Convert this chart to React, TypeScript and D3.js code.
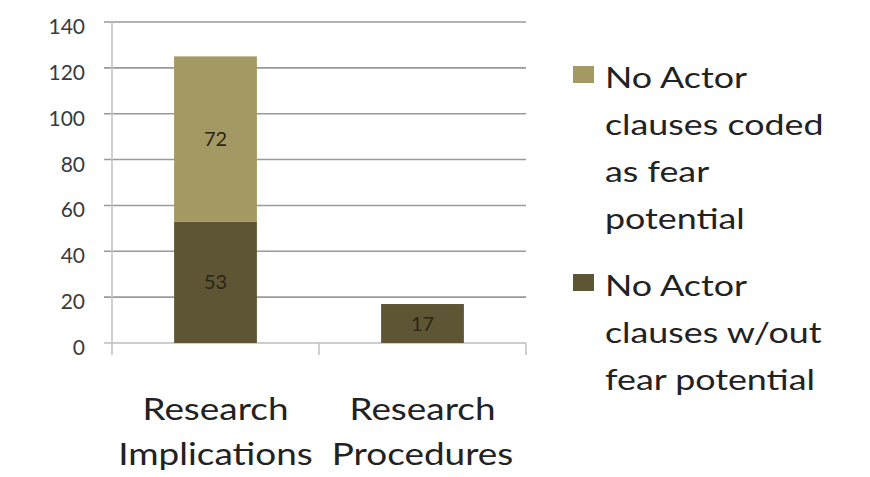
import * as d3 from 'd3'

const categories = [['Research', 'Implications'], ['Research', 'Procedures']]
const fearValues = [72, 0]
const noFearValues = [53, 17]
const yTicks = [0, 20, 40, 60, 80, 100, 120, 140]
const legendLines = [
  ['No Actor', 'clauses coded', 'as fear', 'potential'],
  ['No Actor', 'clauses w/out', 'fear potential'],
]
const colors = ['#a39a63', '#5e5535']

export default function App() {
  const width = 870
  const height = 477
  const margin = { top: 22, bottom: 134, left: 112, right: 344 }
  const font = 'Lato, "Open Sans", sans-serif'
  const y = d3.scaleLinear().domain([0, 140]).range([height - margin.bottom, margin.top])
  const x = d3
    .scaleBand<number>()
    .domain(categories.map((_, i) => i))
    .range([margin.left, width - margin.right])
    .paddingInner(0.6)
    .paddingOuter(0.3)
  const step = x.step()
  const axisEnd = margin.left + step * categories.length
  const base = y(0)

  return (
    <svg
      width={width}
      height={height}
      viewBox={`0 0 ${width} ${height}`}
      style={{ position: 'absolute', left: 0, top: 0, background: 'white' }}
    >
      {yTicks.map((tick) => (
        <g key={tick} transform={`translate(0,${y(tick)})`}>
          <line x1={margin.left - 8} x2={axisEnd} stroke={tick === 0 ? '#bdbdbd' : '#9a9a9a'} strokeWidth="1.6" />
          <text x={margin.left - 27} y={12} textAnchor="end" fontSize="21" fontFamily={font} fill="#3a3a3a">
            {tick}
          </text>
        </g>
      ))}
      <line x1={margin.left} x2={margin.left} y1={y(140)} y2={base + 12} stroke="#c4c4c4" strokeWidth="1.6" />
      {categories.map((_, i) => (
        <line
          key={i}
          x1={margin.left + step * (i + 1)}
          x2={margin.left + step * (i + 1)}
          y1={base}
          y2={base + 12}
          stroke="#c4c4c4"
          strokeWidth="1.6"
        />
      ))}

      {categories.map((lines, i) => {
        const bx = x(i) ?? 0
        const bw = x.bandwidth()
        const lower = noFearValues[i]
        const upper = fearValues[i]
        const cx = bx + bw / 2
        return (
          <g key={i}>
            <rect x={bx} y={y(lower)} width={bw} height={base - y(lower)} fill={colors[1]} />
            {upper > 0 && (
              <rect x={bx} y={y(lower + upper)} width={bw} height={y(lower) - y(lower + upper)} fill={colors[0]} />
            )}
            <text x={cx} y={(y(lower) + base) / 2 + 7} textAnchor="middle" fontSize="20" fontFamily={font} fill="#2b2616">
              {lower}
            </text>
            {upper > 0 && (
              <text
                x={cx}
                y={(y(lower + upper) + y(lower)) / 2 + 7}
                textAnchor="middle"
                fontSize="20"
                fontFamily={font}
                fill="#2b2616"
              >
                {upper}
              </text>
            )}
            {lines.map((line, j) => (
              <text
                key={line}
                transform={`translate(${margin.left + step * (i + 0.5)},${420 + j * 45}) scale(1.21,1)`}
                textAnchor="middle"
                fontSize="30.5"
                fontFamily={font}
                fill="#222"
              >
                {line}
              </text>
            ))}
          </g>
        )
      })}

      {legendLines.map((lines, i) => {
        const top = i === 0 ? 88 : 296
        return (
          <g key={i}>
            <rect x={573} y={top - 22} width={21} height={17} fill={colors[i]} />
            {lines.map((line, j) => (
              <text
                key={line}
                transform={`translate(605,${top + j * 47}) scale(1.28,1)`}
                fontSize="28"
                fontFamily={font}
                fill="#222"
              >
                {line}
              </text>
            ))}
          </g>
        )
      })}
    </svg>
  )
}
